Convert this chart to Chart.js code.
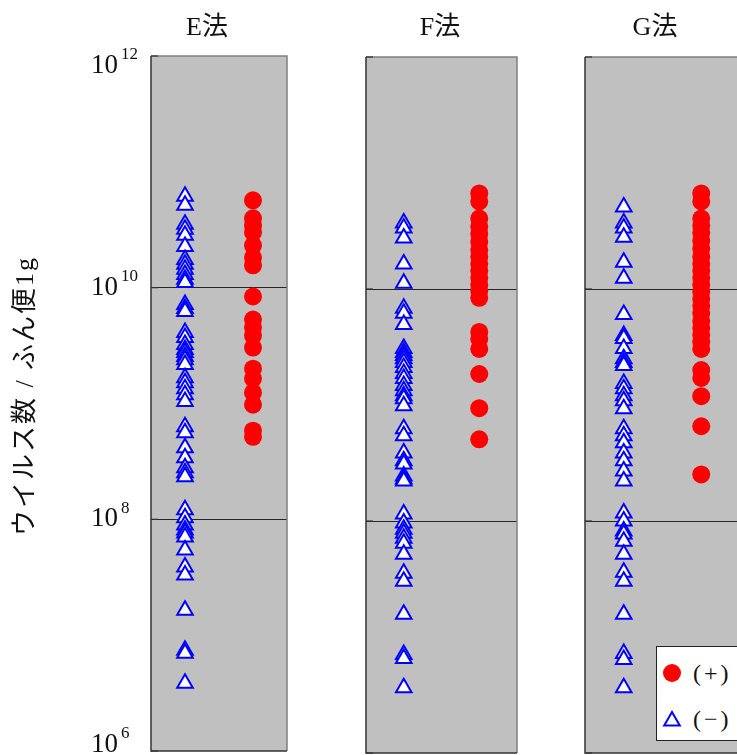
<!DOCTYPE html>
<html><head><meta charset="utf-8">
<script src="https://cdn.jsdelivr.net/npm/chart.js@4/dist/chart.umd.min.js"></script>
<style>
html,body{margin:0;padding:0;background:#fff;width:737px;height:755px;overflow:hidden;position:relative}
canvas{position:absolute;top:0}
.t{position:absolute;font-family:"Liberation Serif","Noto Sans CJK JP",serif;color:#111;white-space:nowrap;text-align:center}
#legend{position:absolute;left:656px;top:646px;width:110px;height:95px;border:1px solid #222;background:#fff;box-sizing:border-box}
#legend .row{position:absolute;left:0;height:30px;width:110px}
#legend svg{position:absolute;left:5px;top:5px}
#legend span{position:absolute;left:36px;top:0;line-height:30px;font-size:24px;letter-spacing:3px;font-family:"Liberation Serif",serif;color:#111}
</style></head><body>
<canvas id="cE" width="295" height="755" style="left:0px"></canvas>
<canvas id="cF" width="230" height="755" style="left:295px"></canvas>
<canvas id="cG" width="220" height="755" style="left:525px"></canvas>
<div id="legend"></div>
<script>
const panelTitles = ['E法', 'F法', 'G法'];
const seriesLabels = ['(+)', '(−)'];
const yTickValues = [1e6, 1e8, 1e10, 1e12];
const yAxisLabel = 'ウイルス数 / ふん便1g';

const eNeg = [6.15e10, 5.14e10, 3.52e10, 3.19e10, 2.83e10, 2.27e10, 1.75e10, 1.59e10, 1.44e10, 1.30e10, 1.18e10, 1.11e10,
  7.16e9, 6.61e9, 6.22e9, 4.10e9, 3.71e9, 3.23e9, 2.92e9, 2.75e9, 2.54e9, 2.39e9, 2.17e9, 1.67e9, 1.51e9, 1.34e9, 1.19e9, 1.04e9,
  6.30e8, 5.58e8, 4.15e8, 3.40e8, 2.79e8, 2.52e8, 2.33e8, 1.21e8, 1.03e8,
  8.95e7, 8.09e7, 7.62e7, 7.05e7, 5.44e7, 3.87e7, 3.30e7, 1.64e7, 7.41e6, 6.99e6, 3.85e6];
const ePos = [5.68e10, 3.97e10, 3.45e10, 3.00e10, 2.32e10, 1.82e10, 1.56e10, 8.39e9, 5.31e9, 4.53e9, 3.86e9, 3.04e9,
  2.00e9, 1.64e9, 1.24e9, 9.77e8, 5.82e8, 5.16e8];
const fNeg = [3.70e10, 3.35e10, 2.75e10, 1.64e10, 1.12e10, 6.81e9, 6.17e9, 4.95e9, 3.07e9, 2.83e9, 2.67e9, 2.51e9, 2.32e9,
  2.10e9, 1.87e9, 1.69e9, 1.47e9, 1.33e9, 1.20e9, 1.13e9, 9.86e8, 6.24e8, 5.42e8, 3.86e8, 3.30e8, 3.10e8, 2.44e8, 2.30e8, 2.21e8,
  1.15e8, 9.59e7, 8.51e7, 7.85e7, 7.11e7, 6.44e7, 5.17e7, 3.54e7, 3.02e7, 1.57e7, 7.06e6, 6.52e6, 3.66e6];
const fPos = [6.66e10, 5.68e10, 4.05e10, 3.45e10, 3.00e10, 2.56e10, 2.18e10, 1.90e10, 1.65e10, 1.44e10, 1.25e10, 1.09e10,
  9.64e9, 8.39e9, 4.26e9, 3.71e9, 3.04e9, 1.85e9, 9.38e8, 5.06e8];
const gNeg = [5.09e10, 3.70e10, 3.35e10, 2.80e10, 1.70e10, 1.24e10, 6.04e9, 3.97e9, 3.75e9, 3.07e9, 2.51e9, 2.32e9, 2.19e9,
  1.53e9, 1.38e9, 1.20e9, 1.09e9, 9.29e8, 6.24e8, 5.42e8, 4.72e8, 3.86e8, 3.30e8, 2.70e8, 2.21e8, 1.17e8, 9.98e7, 8.18e7,
  7.71e7, 6.70e7, 5.17e7, 3.61e7, 3.02e7, 1.57e7, 7.19e6, 6.40e6, 3.66e6];
const gPos = [6.66e10, 5.68e10, 4.05e10, 3.52e10, 3.06e10, 2.61e10, 2.23e10, 1.90e10, 1.65e10, 1.44e10, 1.25e10, 1.09e10,
  9.46e9, 8.22e9, 7.16e9, 6.22e9, 5.31e9, 4.62e9, 4.02e9, 3.49e9, 3.04e9, 2.00e9, 1.71e9, 1.19e9, 6.56e8, 2.52e8];

const SERIF = '"Liberation Serif","Noto Sans CJK JP",serif';
const panels = [
  {id: 'cE', title: panelTitles[0], pos: ePos, neg: eNeg, pad: {left: 151, right: 8, top: 56, bottom: 4}, ticks: true, titleX: 207},
  {id: 'cF', title: panelTitles[1], pos: fPos, neg: fNeg, pad: {left: 71, right: 8, top: 57, bottom: 2}, ticks: false, titleX: 440},
  {id: 'cG', title: panelTitles[2], pos: gPos, neg: gNeg, pad: {left: 60, right: 5, top: 57, bottom: 2}, ticks: false, titleX: 655}
];

const framePlugin = {
  id: 'frame',
  beforeDraw(chart) {
    const a = chart.chartArea, c = chart.ctx;
    c.save();
    c.fillStyle = '#c0c0c0';
    c.fillRect(a.left, a.top, a.right - a.left, a.bottom - a.top);
    c.restore();
  },
  afterDraw(chart, args, opts) {
    const a = chart.chartArea, c = chart.ctx, y = chart.scales.y;
    c.save();
    c.strokeStyle = '#808080';
    c.lineWidth = 1.5;
    c.beginPath();
    c.moveTo(a.left, a.top); c.lineTo(a.right, a.top); c.lineTo(a.right, a.bottom);
    c.stroke();
    c.strokeStyle = '#333';
    c.lineWidth = 1.5;
    c.beginPath();
    c.moveTo(a.left, a.top); c.lineTo(a.left, a.bottom); c.lineTo(a.right, a.bottom);
    c.stroke();
    c.lineWidth = 1.2;
    yTickValues.forEach(v => {
      const py = y.getPixelForValue(v);
      c.beginPath(); c.moveTo(a.left, py); c.lineTo(a.left + 7, py); c.stroke();
    });
    if (opts.labels) {
      c.fillStyle = '#111';
      yTickValues.forEach(v => {
        let py = y.getPixelForValue(v);
        py = Math.min(Math.max(py, a.top + 10), a.bottom - 6);
        const exp = String(Math.round(Math.log10(v)));
        c.font = '27px ' + SERIF;
        c.textAlign = 'right'; c.textBaseline = 'middle';
        c.fillText('10', a.left - 33, py);
        c.font = '17px ' + SERIF;
        c.textAlign = 'left';
        c.fillText(exp, a.left - 30, py - 11);
      });
    }
    c.restore();
  }
};

const charts = panels.map(p => new Chart(document.getElementById(p.id), {
  type: 'scatter',
  data: {
    datasets: [
      {label: seriesLabels[0], data: p.pos.map(v => ({x: 2, y: v})), pointStyle: 'circle', pointRadius: 9,
       pointBackgroundColor: '#ff0000', pointBorderColor: '#ff0000', pointBorderWidth: 0},
      {label: seriesLabels[1], data: p.neg.map(v => ({x: 1, y: v})), pointStyle: 'triangle', pointRadius: 9,
       pointBackgroundColor: '#ffffff', pointBorderColor: '#0000ff', pointBorderWidth: 2}
    ]
  },
  options: {
    responsive: false, animation: false, events: [],
    layout: {padding: p.pad, autoPadding: false},
    plugins: {legend: {display: false}, tooltip: {enabled: false}, frame: {labels: p.ticks}},
    scales: {
      x: {type: 'linear', display: false, min: 0.5, max: 2.5},
      y: {type: 'logarithmic', min: 1e6, max: 1e12,
          afterBuildTicks: s => { s.ticks = yTickValues.map(v => ({value: v})); },
          ticks: {display: false},
          grid: {drawTicks: false, lineWidth: 1,
                 color: ctx => (ctx.tick && (ctx.tick.value === 1e8 || ctx.tick.value === 1e10)) ? '#262626' : 'rgba(0,0,0,0)'},
          border: {display: false},
          afterFit: s => { s.width = 0; }}
    }
  },
  plugins: [framePlugin]
}));

// titles
panels.forEach(p => {
  const d = document.createElement('div');
  d.className = 't';
  d.textContent = p.title;
  d.style.cssText = 'left:' + (p.titleX - 60) + 'px;top:12px;width:120px;line-height:30px;font-size:26px;';
  document.body.appendChild(d);
});
// y-axis label
const yl = document.createElement('div');
yl.className = 't';
yl.textContent = yAxisLabel;
yl.style.cssText = 'left:-175px;top:381px;width:400px;height:30px;line-height:30px;font-size:26px;letter-spacing:2px;transform:rotate(-90deg);';
document.body.appendChild(yl);

// legend built from the datasets of the last panel
const lg = document.getElementById('legend');
charts[2].data.datasets.forEach((ds, i) => {
  const row = document.createElement('div');
  row.className = 'row';
  row.style.top = (11 + i * 46) + 'px';
  let mk;
  if (ds.pointStyle === 'circle') {
    mk = '<svg width="20" height="20"><circle cx="10" cy="10" r="9" fill="' + ds.pointBackgroundColor + '"/></svg>';
  } else {
    const r = 9, cx = 10, cy = 12;
    const pts = [[cx, cy - r], [cx + r * Math.sin(2 * Math.PI / 3), cy + r / 2], [cx - r * Math.sin(2 * Math.PI / 3), cy + r / 2]];
    mk = '<svg width="20" height="20"><polygon points="' + pts.map(q => q.join(',')).join(' ') +
         '" fill="' + ds.pointBackgroundColor + '" stroke="' + ds.pointBorderColor + '" stroke-width="2"/></svg>';
  }
  row.innerHTML = mk + '<span>' + ds.label + '</span>';
  lg.appendChild(row);
});
</script>
</body></html>
